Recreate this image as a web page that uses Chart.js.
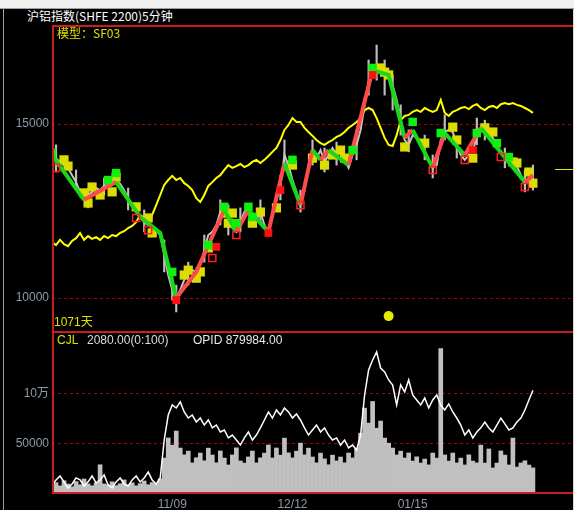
<!DOCTYPE html>
<html>
<head>
<meta charset="utf-8">
<script src="https://cdn.jsdelivr.net/npm/chart.js@4"></script>
<style>
  html, body { margin: 0; padding: 0; background: #000; }
  #wrap { position: relative; width: 574px; height: 510px; background: #000; overflow: hidden;
          font-family: "Liberation Sans", Arial, sans-serif; }
  #topbar { position: absolute; left: 0; top: 0; width: 574px; height: 8px; background: #f0f0f0; border-bottom: 1px solid #a0a0a0; }
  #lborder { position: absolute; left: 3px; top: 9px; width: 1px; height: 501px; background: #a0a0a0; }
  #rborder { position: absolute; left: 573px; top: 9px; width: 1px; height: 501px; background: #d8d8d8; }
  .txt { position: absolute; white-space: nowrap; font-size: 12px; line-height: 14px; }
  #title { left: 27px; top: 9px; color: #fff; font-family: "Noto Sans CJK SC", sans-serif; }
  #model { left: 57px; top: 26px; color: #e0e000; font-family: "Noto Sans CJK SC", sans-serif; }
  #days { left: 54px; top: 315px; color: #e0e000; font-family: "Liberation Sans", "Noto Sans CJK SC", sans-serif; }
  #cjl { left: 57px; top: 333px; color: #e0e000; }
  #cjlv { left: 87px; top: 333px; color: #dcdcdc; }
  #opid { left: 193px; top: 333px; color: #e8e8e8; }
  #price { position: absolute; left: 0; top: 24px; }
  #vol { position: absolute; left: 0; top: 330px; }
</style>
</head>
<body>
<div id="wrap">
  <div id="topbar"></div>
  <canvas id="price" width="574" height="307"></canvas>
  <canvas id="vol" width="574" height="180"></canvas>
  <div id="lborder"></div>
  <div id="rborder"></div>
  <div class="txt" id="title">沪铝指数(SHFE 2200)5分钟</div>
  <div class="txt" id="model">模型：SF03</div>
  <div class="txt" id="days">1071天</div>
  <div class="txt" id="cjl">CJL</div>
  <div class="txt" id="cjlv">2080.00(0:100)</div>
  <div class="txt" id="opid">OPID 879984.00</div>
</div>
<script>
// 5-minute bars, index 0..120
const closePrice = [14200,14020,13910,13820,13740,13530,13330,13050,12870,12960,
  13050,13160,13100,13220,13250,13330,13390,13280,13100,12870,
  12670,12470,12330,12180,12100,12010,11950,11810,11240,10660,
  10230,10000,10230,10520,10750,10800,10750,10950,11380,11810,
  11900,12100,12470,12590,12300,12010,11900,12180,12470,12590,
  12390,12240,12470,12100,11900,12390,12820,13250,14110,13820,
  13390,13050,12670,13100,13820,14200,14020,14250,13910,14110,
  14310,14110,14200,13970,13740,14110,14400,14830,15550,16210,
  16490,16610,16550,16410,16490,16120,15690,15170,14540,14400,
  14680,14600,14540,14250,13970,13740,13820,14540,14770,14830,
  14770,14400,14110,13970,14110,14250,14600,14890,14830,14740,
  14600,14400,14200,14050,13970,13880,13790,13530,13250,13450,
  13390];

// grey high/low wicks where they stick out
const wickIdx  = [1, 6, 9, 13, 19, 23, 28, 30, 31, 34, 38, 42, 44, 47, 52, 57, 58, 62, 65, 68, 71, 76, 79, 81, 83, 85, 87, 89, 93, 95, 98, 101, 106, 108, 113, 118, 120];
const wickLow  = [13620, 13100, 12590, 12960, 12530, 11900, 10750, 9940, 9600, 10370, 11030, 12100, 11810, 11900, 12180, 12820, 13680, 12470, 13820, 13620, 13820, 13970, 15830, 16260, 15830, 15400, 14680, 14200, 13970, 13450, 14540, 14020, 14400, 14540, 13740, 13050, 13100];
const wickHigh = [14400, 13680, 13160, 13450, 13160, 12530, 11670, 10800, 10370, 11030, 11810, 12820, 12670, 12590, 12820, 13530, 14540, 13100, 14540, 14310, 14480, 14830, 16840, 17270, 16840, 16410, 15550, 14830, 14680, 14110, 15260, 14600, 15170, 15110, 14310, 13680, 13820];

const modelLine = [11610,11520,11670,11550,11490,11640,11720,11870,11670,11780,
  11700,11750,11670,11780,11720,11810,11780,11870,11920,12010,
  12070,12180,12390,12300,12180,12390,12670,12960,13250,13390,
  13510,13390,13450,13300,13220,13100,12870,12760,12960,13220,
  13330,13450,13530,13680,13820,13740,13790,13850,13760,13820,
  13910,13970,13880,13970,14080,14200,14310,14540,14830,14970,
  15170,15060,15060,14890,14770,14660,14540,14450,14400,14480,
  14540,14630,14680,14770,14890,14970,15060,15170,15400,15460,
  15400,15170,14890,14600,14400,14370,14680,15110,15230,15260,
  15350,15400,15350,15460,15400,15350,15400,15690,15320,15230,
  15350,15400,15460,15490,15430,15520,15570,15460,15400,15490,
  15520,15460,15570,15600,15570,15600,15550,15520,15460,15400,
  15320];

// trend line turning points
const trendIdx = [0, 8, 16, 22, 27, 31, 36, 43, 46, 49, 54, 58, 62, 65, 67, 69, 74, 80, 84, 88, 90, 95, 98, 103, 107, 118, 120];
const trendVal = [14110, 12820, 13330, 12330, 11870, 10000, 10750, 12530, 11900, 12530, 11900, 13880, 12670, 14250, 13970, 14250, 13820, 16550, 16410, 14600, 14830, 13740, 14740, 14110, 14890, 13330, 13530];

// signal boxes
const boxIdx = [3, 4, 8, 9, 10, 12, 15, 16, 21, 24, 25, 33, 34, 36, 37, 39, 43, 44, 45, 50, 52, 56, 60, 65, 68, 70, 72, 73, 82, 83, 84, 88, 93, 100, 101, 105, 108, 110, 115, 116, 119, 120];
const boxVal = [13970, 13790, 13020, 12730, 13190, 12960, 13050, 13480, 12620, 12300, 11870, 10660, 10800, 10570, 10750, 11440, 12440, 12150, 12440, 12150, 12470, 12590, 13820, 14020, 13820, 14110, 14250, 14020, 16610, 16490, 16410, 14340, 14450, 14910, 14540, 14020, 14890, 14770, 13910, 13880, 13620, 13300];

const sellIdx = [0, 14, 16, 30, 39, 43, 46, 49, 50, 60, 75, 80, 90, 97, 106, 111, 114];
const sellVal = [14170, 13390, 13590, 10750, 11520, 12620, 12150, 12620, 12330, 13970, 14250, 16610, 15060, 14740, 14740, 14450, 14050];

const buyIdx = [31, 41, 54, 57, 80, 105];
const buyVal = [9940, 11470, 11870, 13100, 16410, 14250];

const exitIdx = [1, 21, 24, 40, 46, 62, 95, 103, 112, 118];
const exitVal = [13740, 12300, 11950, 11150, 11810, 12670, 13680, 13970, 14050, 13190];

const dotIdx = [84];
const dotVal = [9480];
const lastPrice = 13710;

const volume = [8200,10400,7100,12300,9000,6200,11500,8300,14100,9200,
  7300,10200,28400,9100,8200,11300,7400,9300,13200,8100,
  10300,7200,9400,12100,8300,10500,9200,14300,35200,55400,
  48100,62300,45200,38400,42100,30300,35500,40200,32400,45100,
  38200,30400,42300,35100,28200,38300,45400,32200,30100,36300,
  42200,30300,35400,40100,48300,35200,45300,38100,55200,40400,
  35300,42100,50200,38400,45100,36200,30300,40100,34300,28400,
  38100,32300,36200,30400,40200,35300,45100,60200,85400,70300,
  92100,65200,72400,55300,50100,45200,38300,42100,35200,40300,
  32100,36400,30200,34100,28300,40200,35100,145200,38300,32100,
  40200,30300,35100,28200,38400,32100,30300,48200,30100,44300,
  25200,30100,42300,38100,28200,55300,26100,30200,32400,28100,
  25300];

const openInterest = [161200,199400,228900,184100,138300,168200,214500,199100,153300,184400,
  229200,176100,199300,237400,161100,138200,184300,214100,168400,153200,
  199100,229300,184200,214400,259100,199200,168300,214100,502400,692100,
  768300,745200,791400,715100,669300,692200,639100,669400,616200,654300,
  594100,616400,563200,578100,518300,540200,502100,464400,518200,563100,
  502300,540100,594400,654200,715300,669100,730200,692300,745100,715400,
  669200,700100,654300,594200,540400,578100,616300,563200,594100,540300,
  502200,518400,464100,502300,442200,464100,426300,540200,844100,1034200,
  1110300,1171200,1049100,1019300,958200,920100,768400,920200,867100,958300,
  844200,806100,768300,821200,745100,806300,844200,768100,730300,776200,
  715100,669300,616200,540100,578300,518200,563100,594300,639200,594100,
  563300,616200,669100,624300,578200,594100,639300,669200,730100,806200,
  879984];

const priceTicks = [10000, 15000];
const volTicks = [50000, 100000];
const volTickLabels = ["50000", "10万"];
const dateTickIdx = [30, 60, 90];
const dateTickLabels = ["11/09", "12/12", "01/15"];

const RED = "#c81e1e";
const GRID = "#a80000";
const AXIS_TEXT = "#8f9aa6";

const series = arr => arr.map((v, i) => ({ x: i, y: v }));
const pairs = (xs, ys) => xs.map((x, i) => ({ x: x, y: ys[i] }));

const framePlugin = {
  id: "frame",
  afterDraw(chart, args, opts) {
    const { ctx, chartArea: a } = chart;
    ctx.save();
    ctx.strokeStyle = RED;
    ctx.lineWidth = 2;
    ctx.beginPath();
    ctx.moveTo(a.left, a.top + 1);
    ctx.lineTo(a.right, a.top + 1);
    ctx.moveTo(a.left + 1, a.top);
    ctx.lineTo(a.left + 1, a.bottom);
    if (opts.bottom) {
      ctx.moveTo(a.left, a.bottom);
      ctx.lineTo(a.right, a.bottom);
    }
    ctx.stroke();
    if (opts.lastPrice) {
      const y = Math.round(chart.scales.y.getPixelForValue(opts.lastPrice)) + 0.5;
      ctx.strokeStyle = "#e8e800";
      ctx.lineWidth = 1;
      ctx.beginPath();
      ctx.moveTo(a.right - 18, y);
      ctx.lineTo(a.right, y);
      ctx.stroke();
    }
    ctx.restore();
  }
};

function yAxisBase() {
  return {
    afterFit: s => { s.width = 52; s.paddingTop = 0; s.paddingBottom = 0; },
    grid: { color: GRID, drawTicks: false, lineWidth: 1 },
    border: { display: false, dash: [3, 3] },
  };
}

new Chart(document.getElementById("price"), {
  type: "line",
  data: {
    datasets: [
      { data: pairs(dotIdx, dotVal), showLine: false, pointStyle: "circle", pointRadius: 5,
        pointBackgroundColor: "#e8e800", pointBorderWidth: 0, order: 1 },
      { data: pairs(buyIdx, buyVal), showLine: false, pointStyle: "rect", pointRadius: 5.5,
        pointBackgroundColor: "#ff1010", pointBorderWidth: 0, order: 2 },
      { data: pairs(exitIdx, exitVal), showLine: false, pointStyle: "rect", pointRadius: 5,
        pointBackgroundColor: "rgba(0,0,0,0)", pointBorderColor: "#ff2020", pointBorderWidth: 1.5, order: 3 },
      { data: pairs(sellIdx, sellVal), showLine: false, pointStyle: "rect", pointRadius: 6,
        pointBackgroundColor: "#10f010", pointBorderWidth: 0, order: 4 },
      { data: pairs(trendIdx, trendVal), borderWidth: 4, pointRadius: 0, order: 5,
        segment: { borderColor: c => c.p1.parsed.y >= c.p0.parsed.y ? "#ff4a4a" : "#18d818" } },
      { data: pairs(boxIdx, boxVal), showLine: false, pointStyle: "rect", pointRadius: 6.5,
        pointBackgroundColor: "#dcdc00", pointBorderWidth: 0, order: 6 },
      { data: series(modelLine), borderColor: "#ffff00", borderWidth: 2, pointRadius: 0, order: 7 },
      { data: series(closePrice), borderColor: "#c4c4c4", borderWidth: 2, pointRadius: 0, order: 8 },
      { type: "bar", data: wickIdx.map((x, i) => ({ x: x, y: [wickLow[i], wickHigh[i]] })),
        backgroundColor: "#bdbdbd", barThickness: 1.5, order: 9 },
    ],
  },
  options: {
    animation: false,
    responsive: false,
    devicePixelRatio: 1,
    layout: { autoPadding: false, padding: { left: 0, right: 1, top: 1, bottom: 0 } },
    plugins: { legend: { display: false }, tooltip: { enabled: false }, frame: { lastPrice: lastPrice } },
    scales: {
      x: { type: "linear", min: 0, max: 130, display: false, offset: false },
      y: {
        ...yAxisBase(),
        min: 9052, max: 17845,
        afterBuildTicks: s => { s.ticks = priceTicks.map(v => ({ value: v })); },
        ticks: { color: AXIS_TEXT, font: { family: "Liberation Sans", size: 12 }, padding: 3,
                 callback: v => String(v) },
      },
    },
  },
  plugins: [framePlugin],
});

new Chart(document.getElementById("vol"), {
  type: "bar",
  data: {
    datasets: [
      { type: "line", data: series(openInterest), yAxisID: "y2", borderColor: "#ffffff",
        borderWidth: 1.5, pointRadius: 0, order: 1 },
      { type: "bar", data: series(volume), backgroundColor: "#c0c0c0",
        barPercentage: 1, categoryPercentage: 1, order: 2 },
    ],
  },
  options: {
    animation: false,
    responsive: false,
    devicePixelRatio: 1,
    layout: { autoPadding: false, padding: { left: 0, right: 1, top: 1, bottom: 0 } },
    plugins: { legend: { display: false }, tooltip: { enabled: false }, frame: { bottom: true } },
    scales: {
      x: {
        type: "linear", min: 0, max: 130, offset: false,
        afterFit: s => { s.height = 17; s.paddingLeft = 0; s.paddingRight = 0; },
        afterBuildTicks: s => { s.ticks = dateTickIdx.map(v => ({ value: v })); },
        ticks: {
          color: AXIS_TEXT, font: { family: "Liberation Sans", size: 12 }, padding: 4,
          maxRotation: 0, autoSkip: false,
          callback: v => dateTickLabels[dateTickIdx.indexOf(v)],
        },
        grid: { display: false, drawTicks: false, offset: false },
        border: { display: false },
      },
      y: {
        ...yAxisBase(),
        min: 0, max: 163000,
        afterBuildTicks: s => { s.ticks = volTicks.map(v => ({ value: v })); },
        ticks: {
          color: AXIS_TEXT, font: { family: "Liberation Sans, Noto Sans CJK SC", size: 12 }, padding: 3,
          callback: v => volTickLabels[volTicks.indexOf(v)],
        },
      },
      y2: { display: false, min: 100000, max: 1330000 },
    },
  },
  plugins: [framePlugin],
});
</script>
</body>
</html>
